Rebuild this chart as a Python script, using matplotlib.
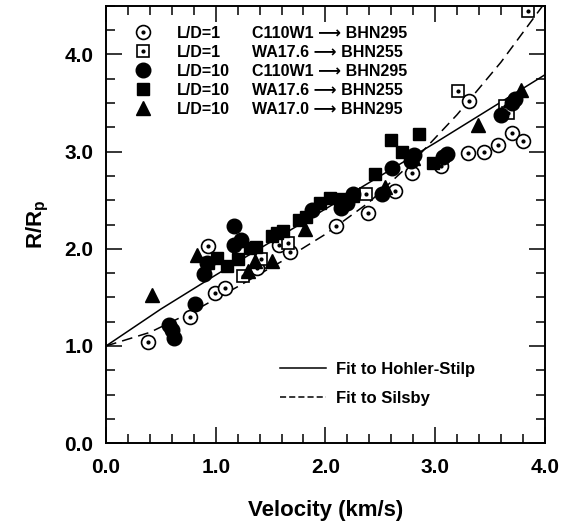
import matplotlib
matplotlib.use('Agg')
import matplotlib.pyplot as plt
from matplotlib.ticker import MultipleLocator, FormatStrFormatter
from matplotlib.lines import Line2D

plt.rcParams['font.family'] = ['Liberation Sans', 'DejaVu Sans']
plt.rcParams['font.weight'] = 'bold'
plt.rcParams['mathtext.fontset'] = 'custom'
plt.rcParams['mathtext.rm'] = 'Liberation Sans:bold'
plt.rcParams['mathtext.it'] = 'Liberation Sans:bold'
plt.rcParams['mathtext.bf'] = 'Liberation Sans:bold'

# ---- data ----
# L/D=1, C110W1 -> BHN295 (open circle with dot)
c1_x = [0.385, 0.77, 0.93, 0.99, 1.08, 1.38, 1.58, 1.68, 2.10, 2.39, 2.63, 2.79,
        3.05, 3.30, 3.31, 3.45, 3.57, 3.70, 3.80]
c1_y = [1.04, 1.30, 2.03, 1.55, 1.60, 1.80, 2.04, 1.97, 2.23, 2.37, 2.59, 2.78,
        2.85, 2.99, 3.52, 3.00, 3.07, 3.19, 3.11]

# L/D=1, WA17.6 -> BHN255 (open square with dot)
s1_x = [1.25, 1.41, 1.66, 2.37, 3.21, 3.64, 3.66, 3.85]
s1_y = [1.72, 1.89, 2.06, 2.56, 3.62, 3.47, 3.40, 4.45]

# L/D=10, C110W1 -> BHN295 (filled circle)
c10_x = [0.57, 0.60, 0.62, 0.81, 0.89, 0.92, 1.17, 1.17, 1.23, 1.88, 2.14, 2.20,
         2.25, 2.52, 2.61, 2.78, 2.81, 3.07, 3.11, 3.60, 3.70, 3.73]
c10_y = [1.22, 1.16, 1.08, 1.43, 1.74, 1.85, 2.23, 2.04, 2.09, 2.40, 2.42, 2.47,
         2.56, 2.56, 2.83, 2.90, 2.97, 2.94, 2.98, 3.38, 3.50, 3.54]

# L/D=10, WA17.6 -> BHN255 (filled square)
s10_x = [0.93, 1.01, 1.10, 1.20, 1.31, 1.37, 1.51, 1.56, 1.61, 1.76, 1.82, 1.95,
         2.04, 2.13, 2.25, 2.45, 2.60, 2.70, 2.85, 2.98]
s10_y = [1.85, 1.91, 1.82, 1.90, 2.01, 2.02, 2.13, 2.16, 2.18, 2.30, 2.33, 2.47,
         2.52, 2.51, 2.54, 2.77, 3.12, 3.00, 3.18, 2.88]

# L/D=10, WA17.0 -> BHN295 (filled triangle)
t10_x = [0.415, 0.83, 1.29, 1.36, 1.51, 1.81, 2.54, 2.80, 3.39, 3.78]
t10_y = [1.52, 1.94, 1.77, 1.87, 1.87, 2.20, 2.64, 2.93, 3.27, 3.63]

# fit curves
hs_x = [0.0, 0.5, 1.0, 1.5, 2.0, 2.5, 3.0, 3.5, 4.0]
hs_y = [1.0, 1.38, 1.73, 2.07, 2.41, 2.75, 3.09, 3.44, 3.79]
sil_x = [0.0, 0.4, 0.8, 1.2, 1.6, 2.0, 2.4, 2.8, 3.2, 3.6, 3.98]
sil_y = [1.0, 1.14, 1.36, 1.61, 1.87, 2.15, 2.48, 2.90, 3.38, 3.92, 4.50]

labels_ld = ['L/D=1', 'L/D=1', 'L/D=10', 'L/D=10', 'L/D=10']
labels_mat = ['C110W1 \u27f6 BHN295', 'WA17.6 \u27f6 BHN255', 'C110W1 \u27f6 BHN295',
              'WA17.6 \u27f6 BHN255', 'WA17.0 \u27f6 BHN295']

fig = plt.figure(figsize=(5.64, 5.32), dpi=100)
ax = fig.add_axes([0.188, 0.167, 0.778, 0.822])

# curves
ax.plot(hs_x, hs_y, color='black', lw=1.1)
ax.plot(sil_x, sil_y, color='black', lw=1.1, dashes=(7, 4))

# points
h1 = ax.plot(c1_x, c1_y, 'o', ms=10, mfc='white', mec='black', mew=1.2)[0]
h1d = ax.plot(c1_x, c1_y, 'o', ms=2, color='black')[0]
h2 = ax.plot(s1_x, s1_y, 's', ms=8.5, mfc='white', mec='black', mew=1.2)[0]
h2d = ax.plot(s1_x, s1_y, 'o', ms=2, color='black')[0]
h3 = ax.plot(c10_x, c10_y, 'o', ms=10.5, color='black')[0]
h4 = ax.plot(s10_x, s10_y, 's', ms=9, color='black')[0]
h5 = ax.plot(t10_x, t10_y, '^', ms=10.5, color='black')[0]

ax.set_xlim(0, 4.0)
ax.set_ylim(0, 4.5)
ax.xaxis.set_major_locator(MultipleLocator(1.0))
ax.xaxis.set_minor_locator(MultipleLocator(0.2))
ax.yaxis.set_major_locator(MultipleLocator(1.0))
ax.yaxis.set_minor_locator(MultipleLocator(0.25))
ax.xaxis.set_major_formatter(FormatStrFormatter('%.1f'))
ax.yaxis.set_major_formatter(FormatStrFormatter('%.1f'))
ax.tick_params(which='both', direction='in', top=True, right=True, width=1.1)
ax.tick_params(which='major', length=11.5, labelsize=15)
ax.tick_params(which='minor', length=6.5)
ax.tick_params(axis='x', which='major', pad=11)
ax.tick_params(axis='y', which='major', pad=9)
for s in ax.spines.values():
    s.set_linewidth(1.4)

ax.set_xlabel('Velocity (km/s)', fontsize=16, fontweight='bold', labelpad=16)
ax.set_ylabel(r'$\mathbf{R/R_p}$', fontsize=16, labelpad=10)

# marker legend (two columns done as two legends so rows line up)
handles = [(h1, h1d), (h2, h2d), h3, h4, h5]
leg1 = ax.legend(handles, labels_ld, loc='upper left', bbox_to_anchor=(0.066, 0.955),
                 frameon=False, fontsize=11.5, handlelength=1.0, handletextpad=1.6,
                 labelspacing=0.25, borderpad=0, borderaxespad=0)
ax.add_artist(leg1)
blank = [Line2D([], [], lw=0) for _ in labels_mat]
leg2 = ax.legend(blank, labels_mat, loc='upper left', bbox_to_anchor=(0.333, 0.955),
                 frameon=False, fontsize=11.5, handlelength=0, handletextpad=0,
                 labelspacing=0.25, borderpad=0, borderaxespad=0)
ax.add_artist(leg2)

# fit legend
fit_h = [Line2D([], [], color='black', lw=1.1),
         Line2D([], [], color='black', lw=1.1, dashes=(4, 2))]
ax.legend(fit_h, ['Fit to Hohler-Stilp', 'Fit to Silsby'], loc='upper left',
          bbox_to_anchor=(0.396, 0.185), frameon=False, fontsize=12,
          handlelength=2.75, handletextpad=0.65, labelspacing=0.8,
          borderpad=0, borderaxespad=0)

fig.savefig('out.png', dpi=100)
